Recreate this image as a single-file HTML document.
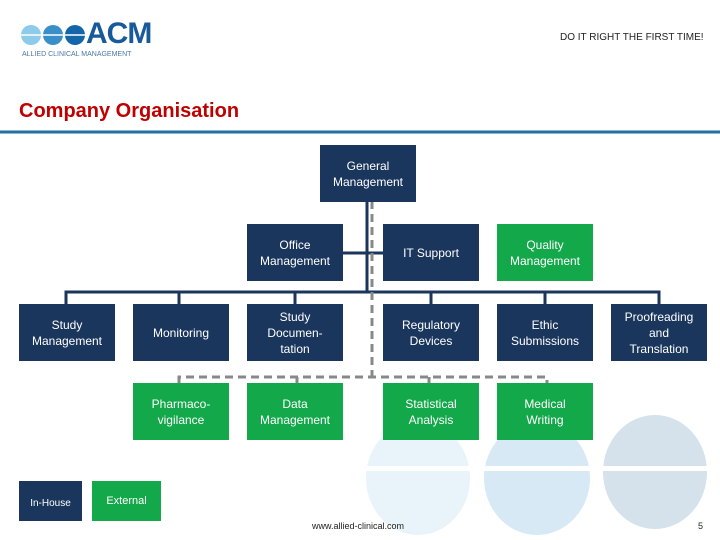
<!DOCTYPE html>
<html><head><style>
body{margin:0;width:720px;height:540px;background:#fff;position:relative;overflow:hidden;font-family:"Liberation Sans",sans-serif}
.b{position:absolute;width:96px;height:57px;background:#1b365d;color:#fff;font-size:12px;line-height:16px;display:flex;align-items:center;justify-content:center;text-align:center}
.g{background:#13a84a}
.a{position:absolute}
</style></head><body>
<svg class="a" style="left:0;top:0" width="720" height="540">
<ellipse cx="418" cy="478" rx="52" ry="57" fill="#e8f4fa"/>
<ellipse cx="537" cy="478" rx="53" ry="57" fill="#d6e9f5"/>
<ellipse cx="655" cy="472" rx="52" ry="57" fill="#d5e1eb"/>
<rect x="360" y="466" width="360" height="5" fill="#fff"/>
<line x1="0" y1="132" x2="720" y2="132" stroke="#1f6fa0" stroke-width="3"/>
<g stroke="#1b365d" stroke-width="3" fill="none">
<line x1="367" y1="200" x2="367" y2="292"/>
<line x1="343" y1="253" x2="383" y2="253"/>
<polyline points="66,304 66,292 659,292 659,304"/>
<line x1="179" y1="292" x2="179" y2="304"/>
<line x1="295" y1="292" x2="295" y2="304"/>
<line x1="431" y1="292" x2="431" y2="304"/>
<line x1="545" y1="292" x2="545" y2="304"/>
</g>
<g stroke="#888" stroke-width="3" fill="none">
<line x1="372" y1="201" x2="372" y2="376" stroke-dasharray="8,5"/>
<polyline points="179,383 179,377 547,377 547,383" stroke-dasharray="8,5"/>
<line x1="297" y1="377" x2="297" y2="383"/>
<line x1="429" y1="377" x2="429" y2="383"/>
</g>
<circle cx="31" cy="35" r="10" fill="#8ccbe9"/>
<circle cx="53" cy="35" r="10" fill="#3a8fc9"/>
<circle cx="75" cy="35" r="10" fill="#1466a8"/>
<line x1="20" y1="35" x2="86" y2="35" stroke="#fff" stroke-width="1.5"/>
</svg>
<div class="a" style="left:86px;top:17px;font-size:30px;font-weight:bold;color:#17599a;letter-spacing:-1px">ACM</div>
<div class="a" style="left:22px;top:51px;font-size:7px;color:#4a78a8">ALLIED CLINICAL MANAGEMENT</div>
<div class="a" style="left:560px;top:32px;font-size:10px;color:#222">DO IT RIGHT THE FIRST TIME!</div>
<div class="a" style="left:19px;top:100px;font-size:20px;font-weight:bold;color:#c00000">Company Organisation</div>
<div class="b" style="left:320px;top:145px">General<br>Management</div>
<div class="b" style="left:247px;top:224px">Office<br>Management</div>
<div class="b" style="left:383px;top:224px">IT Support</div>
<div class="b g" style="left:497px;top:224px">Quality<br>Management</div>
<div class="b" style="left:19px;top:304px">Study<br>Management</div>
<div class="b" style="left:133px;top:304px">Monitoring</div>
<div class="b" style="left:247px;top:304px">Study<br>Documen-<br>tation</div>
<div class="b" style="left:383px;top:304px">Regulatory<br>Devices</div>
<div class="b" style="left:497px;top:304px">Ethic<br>Submissions</div>
<div class="b" style="left:611px;top:304px">Proofreading<br>and<br>Translation</div>
<div class="b g" style="left:133px;top:383px">Pharmaco-<br>vigilance</div>
<div class="b g" style="left:247px;top:383px">Data<br>Management</div>
<div class="b g" style="left:383px;top:383px">Statistical<br>Analysis</div>
<div class="b g" style="left:497px;top:383px">Medical<br>Writing</div>
<div class="b" style="left:19px;top:481px;width:63px;height:40px;font-size:10px;padding-top:6px;box-sizing:border-box">In-House</div>
<div class="b g" style="left:92px;top:481px;width:69px;height:40px;font-size:11px">External</div>
<div class="a" style="left:312px;top:521px;font-size:9px;color:#222">www.allied-clinical.com</div>
<div class="a" style="left:698px;top:521px;font-size:9px;color:#222">5</div>
</body></html>
